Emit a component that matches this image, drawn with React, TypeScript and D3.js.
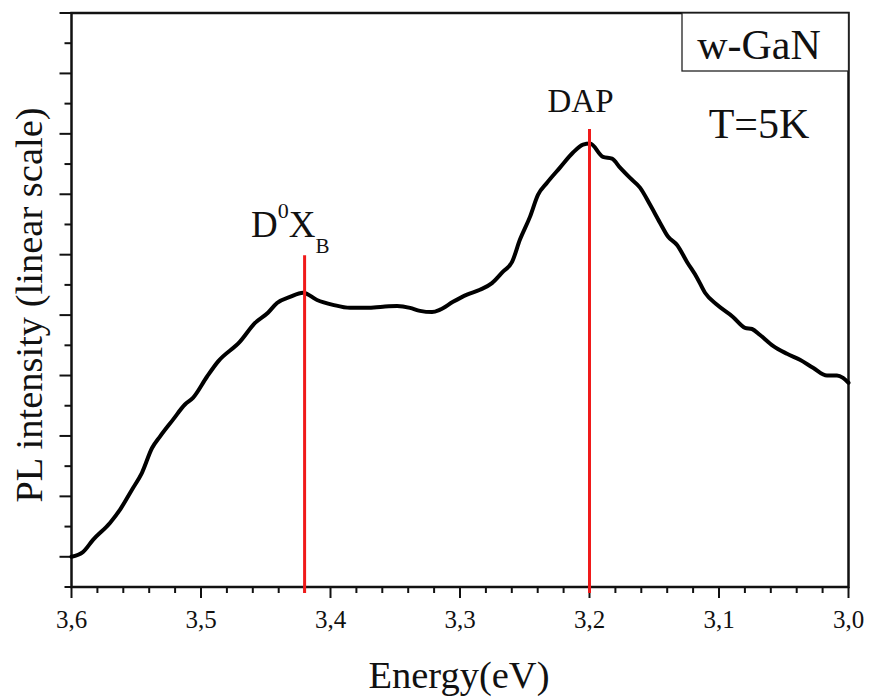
import React from "react";
import * as d3 from "d3";

const energy = [3.6, 3.5911, 3.5834, 3.5703, 3.5625, 3.5533, 3.5456, 3.5378, 3.5317, 3.5216, 3.5124, 3.5062, 3.4954, 3.4869, 3.4699, 3.4583, 3.4483, 3.4413, 3.4313, 3.4212, 3.4104, 3.3981, 3.3849, 3.3718, 3.3595, 3.3486, 3.3386, 3.3309, 3.3216, 3.3154, 3.3054, 3.2946, 3.2846, 3.2753, 3.2668, 3.2598, 3.2537, 3.2459, 3.2398, 3.2328, 3.2228, 3.2127, 3.205, 3.1996, 3.1896, 3.1826, 3.1764, 3.1687, 3.161, 3.1533, 3.1456, 3.1394, 3.1324, 3.1247, 3.117, 3.1108, 3.1015, 3.0892, 3.0799, 3.0745, 3.0683, 3.0583, 3.0475, 3.0375, 3.0274, 3.0166, 3.0089, 3.0042, 3.0];
const intensity = [0.0, 0.08, 0.28, 0.56, 0.78, 1.11, 1.39, 1.8, 1.99, 2.27, 2.52, 2.63, 2.98, 3.23, 3.56, 3.87, 4.04, 4.2, 4.3, 4.37, 4.25, 4.17, 4.12, 4.12, 4.14, 4.15, 4.12, 4.07, 4.05, 4.09, 4.22, 4.34, 4.42, 4.53, 4.72, 4.88, 5.25, 5.63, 5.99, 6.19, 6.44, 6.69, 6.82, 6.84, 6.62, 6.59, 6.44, 6.27, 6.11, 5.83, 5.53, 5.3, 5.16, 4.88, 4.62, 4.37, 4.17, 3.97, 3.79, 3.77, 3.67, 3.49, 3.36, 3.26, 3.13, 3.0, 3.0, 2.96, 2.88];

const xTickLabels = ["3,6", "3,5", "3,4", "3,3", "3,2", "3,1", "3,0"];
const xTickValues = [3.6, 3.5, 3.4, 3.3, 3.2, 3.1, 3.0];
const peakNames = ["D0XB", "DAP"];
const peakEnergies = [3.42, 3.2];
const peakTops = [4.99, 7.08];

const FONT = "Liberation Serif";

export default function App() {
  const W = 871;
  const H = 700;
  const left = 71.5, right = 848.5, top = 13, bottom = 587;
  const x = d3.scaleLinear().domain([3.6, 3.0]).range([left, right]);
  const y = d3.scaleLinear().domain([-0.5, 9]).range([bottom, top]);

  const pts = energy.map((e, i) => [e, intensity[i]] as [number, number]);
  const line = d3
    .line<[number, number]>()
    .x((d) => x(d[0]))
    .y((d) => y(d[1]))
    .curve(d3.curveMonotoneX);

  const xMinor = d3.range(0, 31).map((i) => 3.6 - i * 0.02);
  const yTicks = d3.range(0, 20).map((i) => -0.5 + i * 0.5);

  const red = "#f01a1a";
  const ts = { fontFamily: FONT };

  return (
    <svg
      width={W}
      height={H}
      style={{ position: "absolute", left: 0, top: 0, background: "#fff" }}
    >
      <rect x={0} y={0} width={W} height={H} fill="#fff" />
      {xMinor.map((v, i) => {
        const major = i % 5 === 0;
        return (
          <line
            key={"xt" + i}
            x1={x(v)}
            x2={x(v)}
            y1={bottom}
            y2={bottom + (major ? 11 : 6)}
            stroke="#111"
            strokeWidth={2}
          />
        );
      })}
      {xTickValues.map((v, i) => (
        <text key={"xl" + i} x={x(v)} y={628} textAnchor="middle" fontSize={25} fill="#111" style={ts}>
          {xTickLabels[i]}
        </text>
      ))}
      {yTicks.map((v, i) => {
        const major = Math.abs(v - Math.round(v)) < 1e-6;
        return (
          <line
            key={"yt" + i}
            x1={left}
            x2={left - (major ? 12 : 7)}
            y1={y(v)}
            y2={y(v)}
            stroke="#111"
            strokeWidth={2}
          />
        );
      })}
      <rect
        x={left}
        y={top}
        width={right - left}
        height={bottom - top}
        fill="none"
        stroke="#111"
        strokeWidth={2.5}
      />
      <rect
        x={682}
        y={top}
        width={right - 682}
        height={71 - top}
        fill="#fff"
        stroke="#222"
        strokeWidth={1.3}
      />
      <text x={759} y={59} textAnchor="middle" fontSize={42} fill="#111" style={ts}>
        w-GaN
      </text>
      <text x={759} y={138} textAnchor="middle" fontSize={42} fill="#111" style={ts}>
        T=5K
      </text>
      <path
        d={line(pts) || ""}
        fill="none"
        stroke="#000"
        strokeWidth={4}
        strokeLinejoin="round"
        strokeLinecap="round"
      />
      {peakEnergies.map((e, i) => (
        <line
          key={"pk" + i}
          x1={x(e)}
          x2={x(e)}
          y1={y(peakTops[i])}
          y2={bottom + 6}
          stroke={red}
          strokeWidth={3}
        />
      ))}
      <text x={251} y={237} fontSize={37} fill="#111" style={ts}>
        <tspan>D</tspan>
        <tspan fontSize={22} dy={-19}>0</tspan>
        <tspan dy={19}>X</tspan>
        <tspan fontSize={21} dy={16}>B</tspan>
      </text>
      <text x={x(peakEnergies[1]) - 9} y={112} textAnchor="middle" fontSize={33} fill="#111" style={ts}>
        {peakNames[1]}
      </text>
      <text x={459} y={688} textAnchor="middle" fontSize={38.5} fill="#111" style={ts}>
        Energy(eV)
      </text>
      <text
        transform={`translate(42, 305) rotate(-90)`}
        textAnchor="middle"
        fontSize={38.5}
        fill="#111"
        style={ts}
      >
        PL intensity (linear scale)
      </text>
    </svg>
  );
}
